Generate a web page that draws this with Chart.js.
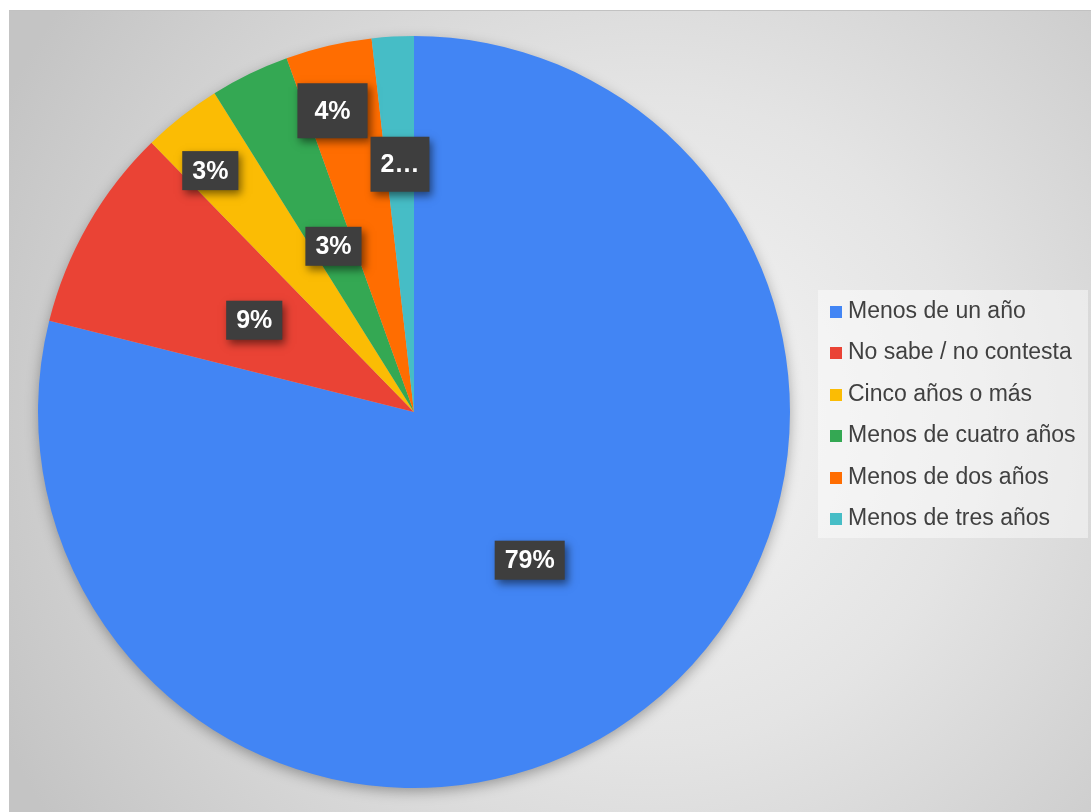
<!DOCTYPE html>
<html>
<head>
<meta charset="utf-8">
<script src="https://cdn.jsdelivr.net/npm/chart.js@4"></script>
<style>
	body { margin: 0; background: #fff; }
	#wrap { position: relative; width: 1091px; height: 812px; overflow: hidden; }
	#bg {
		position: absolute; left: 9px; top: 10px; width: 1082px; height: 802px;
		border-top: 1px solid #c2c2c2;
		background: radial-gradient(circle 720px at 640px 410px, #f6f6f6 0%, #e4e4e4 45%, #c4c4c4 100%);
	}
	#chart { position: absolute; left: 0; top: 0; }
	#legend {
		position: absolute; left: 818px; top: 290px; width: 270px; height: 248px;
		background: rgba(255, 255, 255, 0.45);
		font-family: 'Liberation Sans', Arial, sans-serif; font-size: 23px; color: #404040;
	}
	#legend div { position: absolute; left: 12px; height: 24px; line-height: 24px; white-space: nowrap; }
	#legend span { display: inline-block; width: 12px; height: 12px; margin-right: 6px; vertical-align: 0px; }
</style>
</head>
<body>
<div id="wrap">
	<div id="bg"></div>
	<canvas id="chart" width="1091" height="812"></canvas>
	<div id="legend"></div>
</div>
<script>
const categories = [
	'Menos de un año',
	'No sabe / no contesta',
	'Cinco años o más',
	'Menos de cuatro años',
	'Menos de dos años',
	'Menos de tres años',
];
const shares = [78.9, 8.8, 3.4, 3.4, 3.7, 1.8];
const valueLabels = ['79%', '9%', '3%', '3%', '4%', '2…'];
const colors = ['#4285f4', '#ea4335', '#fbbc04', '#34a853', '#ff6d01', '#46bdc6'];

// where each value box sits: fraction of the radius, and a small angle nudge (degrees)
const labelRadius = [0.5, 0.49, 0.84, 0.49, 0.83, 0.66];
const labelNudge = [0, 0, -2, 0, -2, 0];
const labelBoxH = [39, 39, 39, 39, 55, 55];

// soft shadow under the whole pie
const pieShadow = {
	id: 'pieShadow',
	beforeDatasetsDraw(chart) {
		const arc = chart.getDatasetMeta(0).data[0];
		const ctx = chart.ctx;
		ctx.save();
		ctx.shadowColor = 'rgba(0,0,0,0.35)';
		ctx.shadowBlur = 14;
		ctx.shadowOffsetY = 4;
		ctx.fillStyle = '#bbb';
		ctx.beginPath();
		ctx.arc(arc.x, arc.y, arc.outerRadius - 1, 0, Math.PI * 2);
		ctx.fill();
		ctx.restore();
	},
};

// dark value boxes with white bold text
const valueBoxes = {
	id: 'valueBoxes',
	afterDatasetsDraw(chart) {
		const ctx = chart.ctx;
		ctx.save();
		ctx.font = 'bold 25px "Liberation Sans", Arial, sans-serif';
		ctx.textAlign = 'center';
		ctx.textBaseline = 'middle';
		chart.getDatasetMeta(0).data.forEach((arc, i) => {
			const mid = (arc.startAngle + arc.endAngle) / 2 + labelNudge[i] * Math.PI / 180;
			const r = arc.outerRadius * labelRadius[i];
			const x = arc.x + Math.cos(mid) * r;
			const y = arc.y + Math.sin(mid) * r;
			const text = valueLabels[i];
			const w = ctx.measureText(text).width + (i === 4 ? 34 : 20);
			const h = labelBoxH[i];
			ctx.save();
			ctx.shadowColor = 'rgba(0,0,0,0.5)';
			ctx.shadowBlur = 8;
			ctx.shadowOffsetX = 3;
			ctx.shadowOffsetY = 4;
			ctx.fillStyle = '#3e3e3e';
			ctx.fillRect(x - w / 2, y - h / 2, w, h);
			ctx.restore();
			ctx.fillStyle = '#ffffff';
			ctx.fillText(text, x, y + 1);
		});
		ctx.restore();
	},
};

new Chart(document.querySelector('#chart'), {
	type: 'pie',
	data: {
		labels: categories,
		datasets: [
			{
				data: shares,
				backgroundColor: colors,
				borderWidth: 0,
				hoverOffset: 0,
			},
		],
	},
	options: {
		responsive: false,
		animation: false,
		layout: { padding: { left: 38, right: 301, top: 36, bottom: 24 } },
		plugins: {
			legend: { display: false },
			tooltip: { enabled: false },
		},
	},
	plugins: [pieShadow, valueBoxes],
});

// legend on the right
const legend = document.querySelector('#legend');
categories.forEach((name, i) => {
	const row = document.createElement('div');
	row.style.top = (8 + i * 41.4) + 'px';
	const sw = document.createElement('span');
	sw.style.background = colors[i];
	row.appendChild(sw);
	row.appendChild(document.createTextNode(name));
	legend.appendChild(row);
});
</script>
</body>
</html>
